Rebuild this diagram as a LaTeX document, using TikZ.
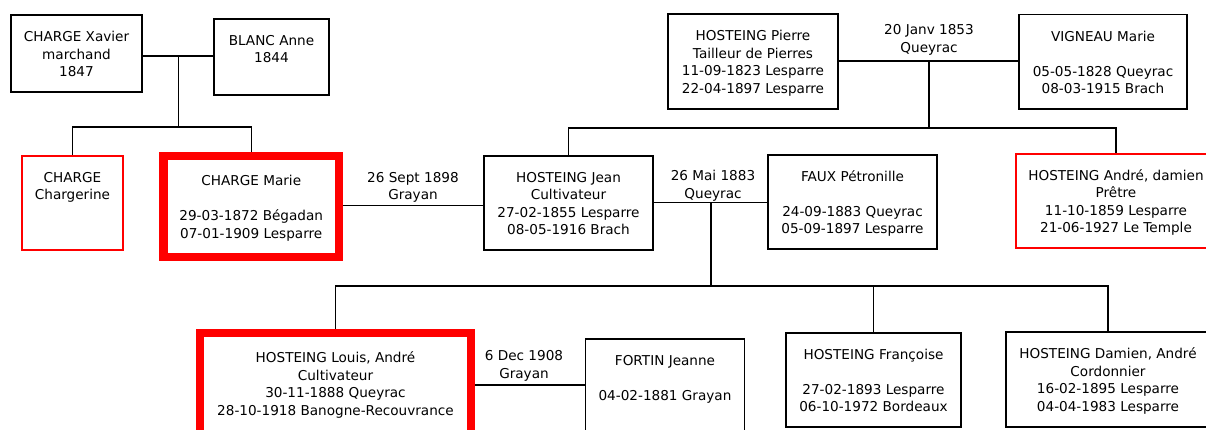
\documentclass[tikz,border=0pt]{standalone}
\usepackage{fontspec}
\setmainfont{DejaVu Sans}
\newcommand\pfont{\fontsize{13.6}{17.5}\selectfont}
\newcommand\sx{\rule[-3.25pt]{0pt}{17.5pt}}
\tikzset{
  box/.style={draw=black, line width=1.4pt, inner sep=0pt, align=center, font=\pfont},
  redbox/.style={box, draw=red, line width=1.6pt},
  thickred/.style={box, draw=red, line width=8.5pt},
  lbl/.style={inner sep=0pt, align=center, font=\pfont},
  link/.style={draw=black, line width=1.4pt},
}
\begin{document}
\begin{tikzpicture}[x=1pt,y=-1pt]
\useasboundingbox (0,0) rectangle (1206,429);
\fill[white] (0,0) rectangle (1206,429);
\clip (0,0) rectangle (1206,429);

% persons
\node[box, minimum width=131pt, minimum height=77pt] (xavier) at (76.5,53.5)
  {\sx CHARGE Xavier\\\sx marchand\\\sx 1847};
\node[box, minimum width=115pt, minimum height=76pt] (blanc) at (271.5,57)
  {\sx BLANC Anne\\\sx 1844\\\sx};
\node[redbox, minimum width=101pt, minimum height=94pt] (chargerine) at (72.5,203)
  {\sx CHARGE\\\sx Chargerine\\\sx\\\sx};
\node[thickred, minimum width=175.5pt, minimum height=101pt] (marie) at (251.25,206.5)
  {\sx CHARGE Marie\\\sx\\\sx 29-03-1872 Bégadan\\\sx 07-01-1909 Lesparre};
\node[box, minimum width=169pt, minimum height=94pt] (jean) at (568.5,203)
  {\sx HOSTEING Jean\\\sx Cultivateur\\\sx 27-02-1855 Lesparre\\\sx 08-05-1916 Brach};
\node[box, minimum width=169pt, minimum height=94pt] (faux) at (852.5,202)
  {\sx FAUX Pétronille\\\sx\\\sx 24-09-1883 Queyrac\\\sx 05-09-1897 Lesparre};
\node[box, minimum width=170pt, minimum height=95pt] (pierre) at (753,61.5)
  {\sx HOSTEING Pierre\\\sx Tailleur de Pierres\\\sx 11-09-1823 Lesparre\\\sx 22-04-1897 Lesparre};
\node[box, minimum width=168pt, minimum height=94.5pt] (vigneau) at (1103,61.75)
  {\sx VIGNEAU Marie\\\sx\\\sx 05-05-1828 Queyrac\\\sx 08-03-1915 Brach};
\node[redbox, minimum width=200pt, minimum height=94pt] (andre) at (1116,201)
  {\sx HOSTEING André, damien\\\sx Prêtre\\\sx 11-10-1859 Lesparre\\\sx 21-06-1927 Le Temple};
\node[thickred, minimum width=271pt, minimum height=101pt] (louis) at (335.5,383.5)
  {\sx HOSTEING Louis, André\\\sx Cultivateur\\\sx 30-11-1888 Queyrac\\\sx 28-10-1918 Banogne-Recouvrance};
\node[box, minimum width=158.6pt, minimum height=94pt] (fortin) at (665,386)
  {\sx FORTIN Jeanne\\\sx\\\sx 04-02-1881 Grayan\\\sx};
\node[box, minimum width=175pt, minimum height=94pt] (francoise) at (873.5,380)
  {\sx HOSTEING Françoise\\\sx\\\sx 27-02-1893 Lesparre\\\sx 06-10-1972 Bordeaux};
\node[box, minimum width=204pt, minimum height=95pt] (damien) at (1108,379.5)
  {\sx HOSTEING Damien, André\\\sx Cordonnier\\\sx 16-02-1895 Lesparre\\\sx 04-04-1983 Lesparre};

% marriage labels
\node[lbl] (l1) at (413,185.5) {\sx 26 Sept 1898\\\sx Grayan};
\node[lbl] (l2) at (929,38) {\sx 20 Janv 1853\\\sx Queyrac};
\node[lbl] (l3) at (713,184) {\sx 26 Mai 1883\\\sx Queyrac};
\node[lbl] (l4) at (524,364) {\sx 6 Dec 1908\\\sx Grayan};

% connectors
\coordinate (m1) at (178.5,56);
\coordinate (b1) at (178.5,127);
\draw[link] (xavier.east |- m1) -- (blanc.west |- m1);
\draw[link] (m1) -- (b1);
\draw[link] (chargerine.north) -- (chargerine.north |- b1) -- (marie.north |- b1) -- (marie.north);

\coordinate (m2) at (413,205.7);
\draw[link] (marie.east |- m2) -- (jean.west |- m2);

\coordinate (m3) at (929,61);
\coordinate (b2) at (929,128);
\draw[link] (pierre.east |- m3) -- (vigneau.west |- m3);
\draw[link] (m3) -- (b2);
\draw[link] (jean.north) -- (jean.north |- b2) -- (andre.north |- b2) -- (andre.north);

\coordinate (m4) at (711,202.7);
\coordinate (b3) at (711,286);
\draw[link] (jean.east |- m4) -- (faux.west |- m4);
\draw[link] (m4) -- (b3);
\draw[link] (louis.north) -- (louis.north |- b3) -- (damien.north |- b3) -- (damien.north);
\draw[link] (francoise.north) -- (francoise.north |- b3);

\coordinate (m5) at (530,385);
\draw[link] (louis.east |- m5) -- (fortin.west |- m5);
\end{tikzpicture}
\end{document}
